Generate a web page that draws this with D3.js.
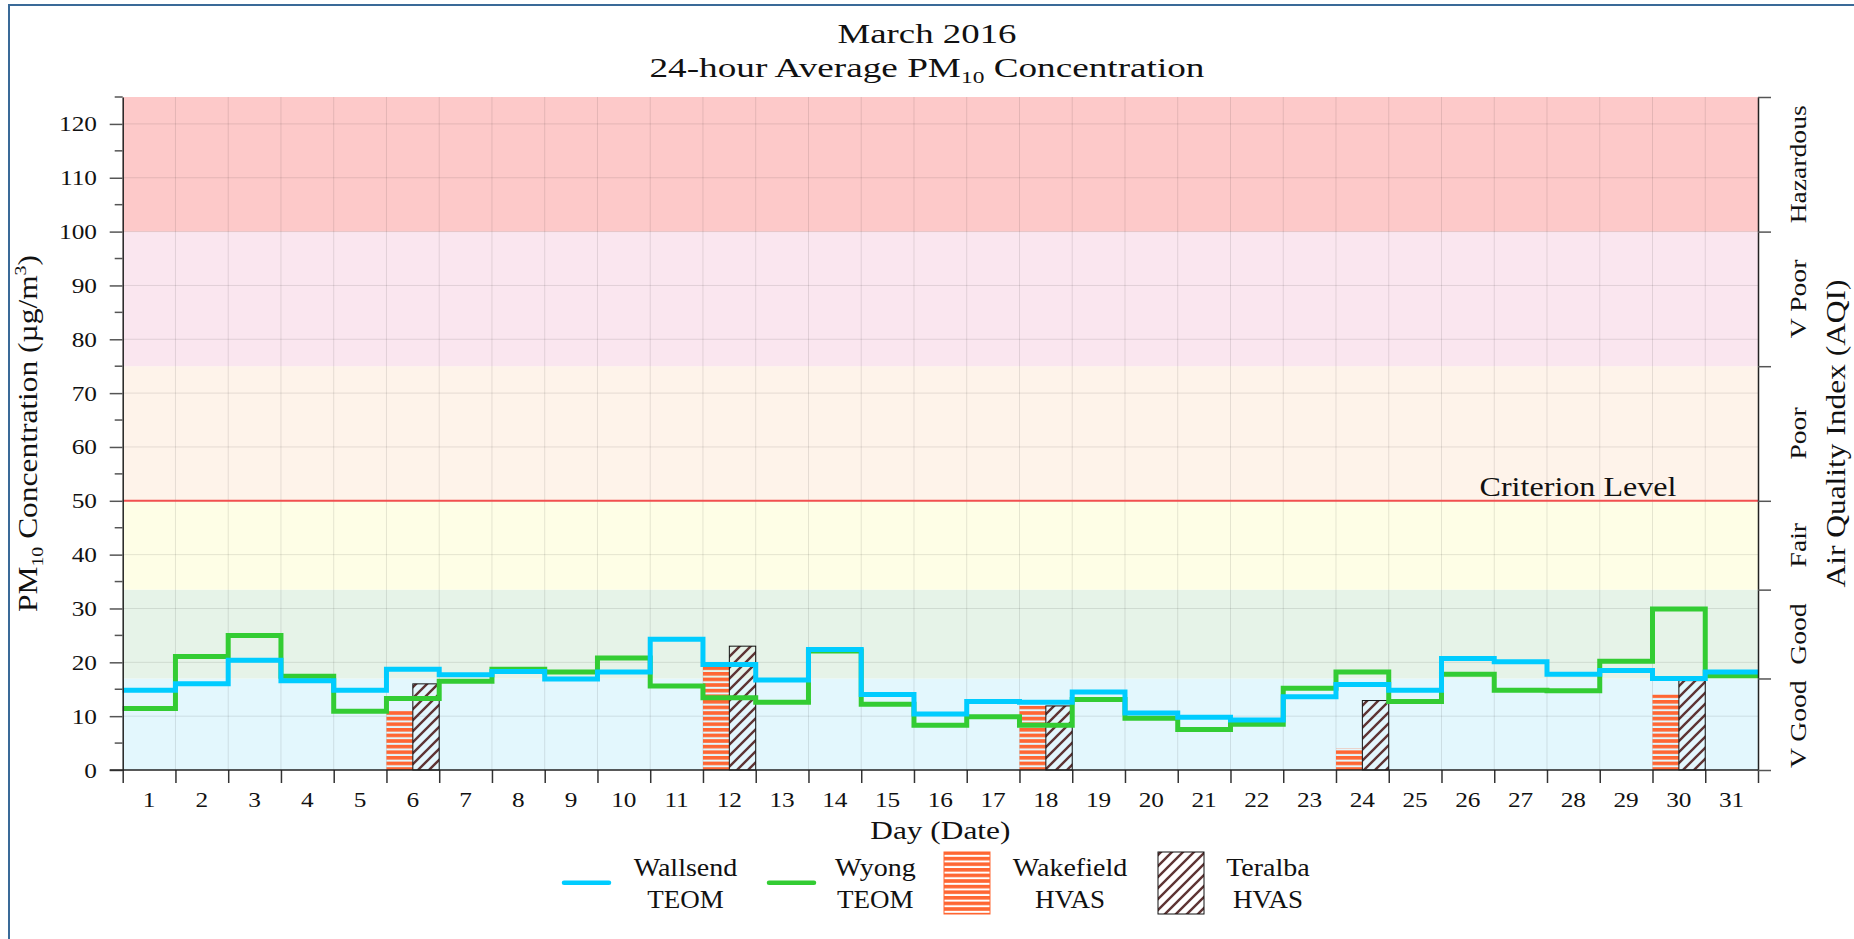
<!DOCTYPE html>
<html>
<head>
<meta charset="utf-8">
<script src="https://cdn.jsdelivr.net/npm/d3@7"></script>
<style>
  body { margin: 0; background: #fff; }
  text { font-family: "Liberation Serif", serif; fill: #111; }
</style>
</head>
<body>
<div id="viz-container"></div>
<script>
// values
const days = d3.range(1, 32);
const wallsend = [14.8, 16.0, 20.4, 16.6, 14.8, 18.7, 17.7, 18.3, 16.9, 18.2, 24.3, 19.6, 16.7, 22.4, 14.0, 10.4,
                  12.7, 12.6, 14.5, 10.6, 9.8, 9.3, 13.6, 15.9, 14.8, 20.7, 20.1, 17.8, 18.5, 17.0, 18.2];
const wyong = [11.4, 21.1, 25.0, 17.4, 10.9, 13.3, 16.5, 18.7, 18.2, 20.8, 15.6, 13.4, 12.6, 22.1, 12.2, 8.3,
               9.9, 8.3, 13.1, 9.6, 7.5, 8.5, 15.2, 18.2, 12.7, 17.8, 14.8, 14.7, 20.2, 29.9, 17.5];
const hvasDays = [6, 12, 18, 24, 30];
const wakefield = [11.0, 20.0, 11.9, 4.0, 14.0];
const teralba = [16.0, 23.0, 11.9, 12.9, 16.6];
const aqiBreaks = [0, 17, 33.5, 50, 75, 100, 125];
const aqiLabels = ["V Good", "Good", "Fair", "Poor", "V Poor", "Hazardous"];
const yTicks = d3.range(0, 121, 10);
const criterion = 50;

const bandColors = ["#e3f7fd", "#e6f3e8", "#fefee6", "#fef3ea", "#fae6ef", "#fdc9c9"];

const W = 1854, H = 939;
const pLeft = 122.7, pRight = 1758, pTop = 97, pBottom = 770;

let viz = d3.select("#viz-container")
  .append("svg")
    .attr("width", W)
    .attr("height", H)
;

// stretch a text to a given width (reference text is wide)
function fitWidth(sel, w){
  sel.attr("textLength", w).attr("lengthAdjust", "spacingAndGlyphs");
}
function stretch(sel, k){
  sel.each(function(){
    let w = this.getComputedTextLength();
    this.setAttribute("textLength", w * k);
    this.setAttribute("lengthAdjust", "spacingAndGlyphs");
  });
}

let defs = viz.append("defs");
let wake = defs.append("pattern")
    .attr("id", "wake")
    .attr("patternUnits", "userSpaceOnUse")
    .attr("width", 10).attr("height", 5.6);
wake.append("rect").attr("width", 10).attr("height", 3.6).attr("fill", "#ff6633");

let ter = defs.append("pattern")
    .attr("id", "ter")
    .attr("patternUnits", "userSpaceOnUse")
    .attr("width", 11).attr("height", 11);
ter.append("path")
    .attr("d", "M-2,2 L2,-2 M0,11 L11,0 M9,13 L13,9")
    .attr("stroke", "#5e3434")
    .attr("stroke-width", 2.4);

// outer frame
viz.append("path")
    .attr("d", `M9,${H} L9,5 L${W},5`)
    .attr("fill", "none")
    .attr("stroke", "#3a6a98")
    .attr("stroke-width", 2);

let x = d3.scaleLinear().domain([0.5, 31.5]).range([pLeft, pRight]);
let y = d3.scaleLinear().domain([0, 125]).range([pBottom, pTop]);

// AQI bands
viz.append("g").selectAll("rect").data(aqiLabels).enter()
  .append("rect")
    .attr("x", pLeft)
    .attr("width", pRight - pLeft)
    .attr("y", (d, i) => y(aqiBreaks[i + 1]))
    .attr("height", (d, i) => y(aqiBreaks[i]) - y(aqiBreaks[i + 1]))
    .attr("fill", (d, i) => bandColors[i])
;

// grid
let grid = viz.append("g").attr("stroke", "#000").attr("stroke-opacity", 0.1).attr("stroke-width", 1);
grid.selectAll("line.v").data(d3.range(1.5, 31.5, 1)).enter()
  .append("line")
    .attr("x1", d => x(d)).attr("x2", d => x(d))
    .attr("y1", pTop).attr("y2", pBottom);
grid.selectAll("line.h").data(yTicks.slice(1)).enter()
  .append("line")
    .attr("x1", pLeft).attr("x2", pRight)
    .attr("y1", d => y(d)).attr("y2", d => y(d));

// criterion level
viz.append("line")
    .attr("x1", pLeft).attr("x2", pRight)
    .attr("y1", y(criterion)).attr("y2", y(criterion))
    .attr("stroke", "#f25050")
    .attr("stroke-width", 2);
viz.append("text")
    .attr("x", 1578).attr("y", y(criterion) - 5)
    .attr("text-anchor", "middle")
    .attr("font-size", 28)
    .text("Criterion Level")
    .call(fitWidth, 197);

// HVAS bars
let bars = viz.append("g");
bars.selectAll("rect.wk").data(hvasDays).enter()
  .append("rect")
    .attr("x", d => x(d - 0.5))
    .attr("width", d => x(d) - x(d - 0.5))
    .attr("y", (d, i) => y(wakefield[i]))
    .attr("height", (d, i) => y(0) - y(wakefield[i]))
    .attr("fill", "url(#wake)");
bars.selectAll("rect.tr").data(hvasDays).enter()
  .append("rect")
    .attr("x", d => x(d))
    .attr("width", d => x(d + 0.5) - x(d))
    .attr("y", (d, i) => y(teralba[i]))
    .attr("height", (d, i) => y(0) - y(teralba[i]))
    .attr("fill", "url(#ter)")
    .attr("stroke", "#111")
    .attr("stroke-width", 1);

// step lines
function stepPoints(vals){
  let pts = vals.map((v, i) => [days[i] - 0.5, v]);
  pts.push([31.5, vals[vals.length - 1]]);
  return pts;
}
let stepLine = d3.line()
    .x(d => x(d[0]))
    .y(d => y(d[1]))
    .curve(d3.curveStepAfter);

viz.append("path")
    .attr("d", stepLine(stepPoints(wyong)))
    .attr("fill", "none")
    .attr("stroke", "#33cc33")
    .attr("stroke-width", 5);
viz.append("path")
    .attr("d", stepLine(stepPoints(wallsend)))
    .attr("fill", "none")
    .attr("stroke", "#00ccff")
    .attr("stroke-width", 5);

// left axis
let yAxis = viz.append("g")
    .attr("transform", `translate(${pLeft},0)`)
    .call(d3.axisLeft(y).tickValues(yTicks).tickSize(13).tickSizeOuter(0).tickFormat(""));
yAxis.selectAll(".tick line").attr("stroke", "#555").attr("stroke-width", 1.5);
yAxis.select(".domain").attr("stroke", "#222").attr("stroke-width", 1.5);
yAxis.selectAll("line.minor").data(d3.range(5, 126, 10)).enter()
  .append("line")
    .attr("x1", -8).attr("x2", 0)
    .attr("y1", d => y(d)).attr("y2", d => y(d))
    .attr("stroke", "#555").attr("stroke-width", 1.5);
viz.append("g").selectAll("text").data(yTicks).enter()
  .append("text")
    .attr("x", 97)
    .attr("y", d => y(d) + 7.5)
    .attr("text-anchor", "end")
    .attr("font-size", 22)
    .text(d => d)
    .call(stretch, 1.15);

// bottom axis
let xAxis = viz.append("g")
    .attr("transform", `translate(0,${pBottom})`)
    .call(d3.axisBottom(x).tickValues(d3.range(0.5, 32, 1)).tickSize(13).tickSizeOuter(0).tickFormat(""));
xAxis.selectAll(".tick line").attr("stroke", "#333").attr("stroke-width", 1.5);
xAxis.select(".domain").remove();
viz.append("line")
    .attr("x1", pLeft - 13).attr("x2", pRight)
    .attr("y1", pBottom).attr("y2", pBottom)
    .attr("stroke", "#222").attr("stroke-width", 1.5);
viz.append("g").selectAll("text").data(days).enter()
  .append("text")
    .attr("x", d => x(d))
    .attr("y", 807)
    .attr("text-anchor", "middle")
    .attr("font-size", 22)
    .text(d => d)
    .call(stretch, 1.15);

// right axis (AQI)
let rAxis = viz.append("g")
    .attr("transform", `translate(${pRight},0)`)
    .call(d3.axisRight(y).tickValues(aqiBreaks).tickSize(13).tickSizeOuter(0).tickFormat(""));
rAxis.selectAll(".tick line").attr("stroke", "#555").attr("stroke-width", 1.5);
rAxis.select(".domain").attr("stroke", "#222").attr("stroke-width", 1.5);
viz.append("g").selectAll("text").data(aqiLabels).enter()
  .append("text")
    .attr("transform", (d, i) => `translate(1806,${y((aqiBreaks[i] + aqiBreaks[i + 1]) / 2)}) rotate(-90)`)
    .attr("text-anchor", "middle")
    .attr("font-size", 23)
    .text(d => d)
    .call(stretch, 1.2);
viz.append("text")
    .attr("transform", `translate(1845,${(pTop + pBottom) / 2}) rotate(-90)`)
    .attr("text-anchor", "middle")
    .attr("font-size", 27)
    .text("Air Quality Index (AQI)")
    .call(fitWidth, 308);

// axis titles
let yl = viz.append("text")
    .attr("transform", `translate(37,${(pTop + pBottom) / 2}) rotate(-90)`)
    .attr("text-anchor", "middle")
    .attr("font-size", 27);
yl.append("tspan").text("PM");
yl.append("tspan").attr("font-size", 17).attr("dy", 6).text("10");
yl.append("tspan").attr("dy", -6).text(" Concentration (µg/m");
yl.append("tspan").attr("font-size", 17).attr("dy", -11).text("3");
yl.append("tspan").attr("dy", 11).text(")");
yl.call(fitWidth, 357);

viz.append("text")
    .attr("x", (pLeft + pRight) / 2).attr("y", 839)
    .attr("text-anchor", "middle")
    .attr("font-size", 25)
    .text("Day (Date)")
    .call(fitWidth, 140);

// title
viz.append("text")
    .attr("x", W / 2).attr("y", 43)
    .attr("text-anchor", "middle")
    .attr("font-size", 27)
    .text("March 2016")
    .call(fitWidth, 179);
let t2 = viz.append("text")
    .attr("x", W / 2).attr("y", 77)
    .attr("text-anchor", "middle")
    .attr("font-size", 27);
t2.append("tspan").text("24-hour Average PM");
t2.append("tspan").attr("font-size", 17).attr("dy", 6).text("10");
t2.append("tspan").attr("dy", -6).text(" Concentration");
t2.call(fitWidth, 555);

// legend
let legend = viz.append("g");
let legendItems = [
  {name: "Wallsend", sub: "TEOM", kind: "line", color: "#00ccff", x0: 562, tx: 685.5},
  {name: "Wyong", sub: "TEOM", kind: "line", color: "#33cc33", x0: 767, tx: 875.3},
  {name: "Wakefield", sub: "HVAS", kind: "wake", x0: 944, tx: 1070},
  {name: "Teralba", sub: "HVAS", kind: "ter", x0: 1158, tx: 1268}
];
legendItems.forEach(function(it){
  if (it.kind == "line") {
    legend.append("line")
        .attr("x1", it.x0 + 2).attr("x2", it.x0 + 47)
        .attr("y1", 882.7).attr("y2", 882.7)
        .attr("stroke", it.color)
        .attr("stroke-width", 4.5)
        .attr("stroke-linecap", "round");
  } else {
    legend.append("rect")
        .attr("x", it.x0).attr("y", 852)
        .attr("width", 46).attr("height", 62)
        .attr("fill", "url(#" + it.kind + ")")
        .attr("stroke", it.kind == "ter" ? "#111" : "#ff6633")
        .attr("stroke-width", 1);
  }
  legend.append("text")
      .attr("x", it.tx).attr("y", 876)
      .attr("text-anchor", "middle")
      .attr("font-size", 25)
      .text(it.name)
      .call(stretch, 1.12);
  legend.append("text")
      .attr("x", it.tx).attr("y", 907.7)
      .attr("text-anchor", "middle")
      .attr("font-size", 25)
      .text(it.sub)
      .call(stretch, 1.08);
});
</script>
</body>
</html>
